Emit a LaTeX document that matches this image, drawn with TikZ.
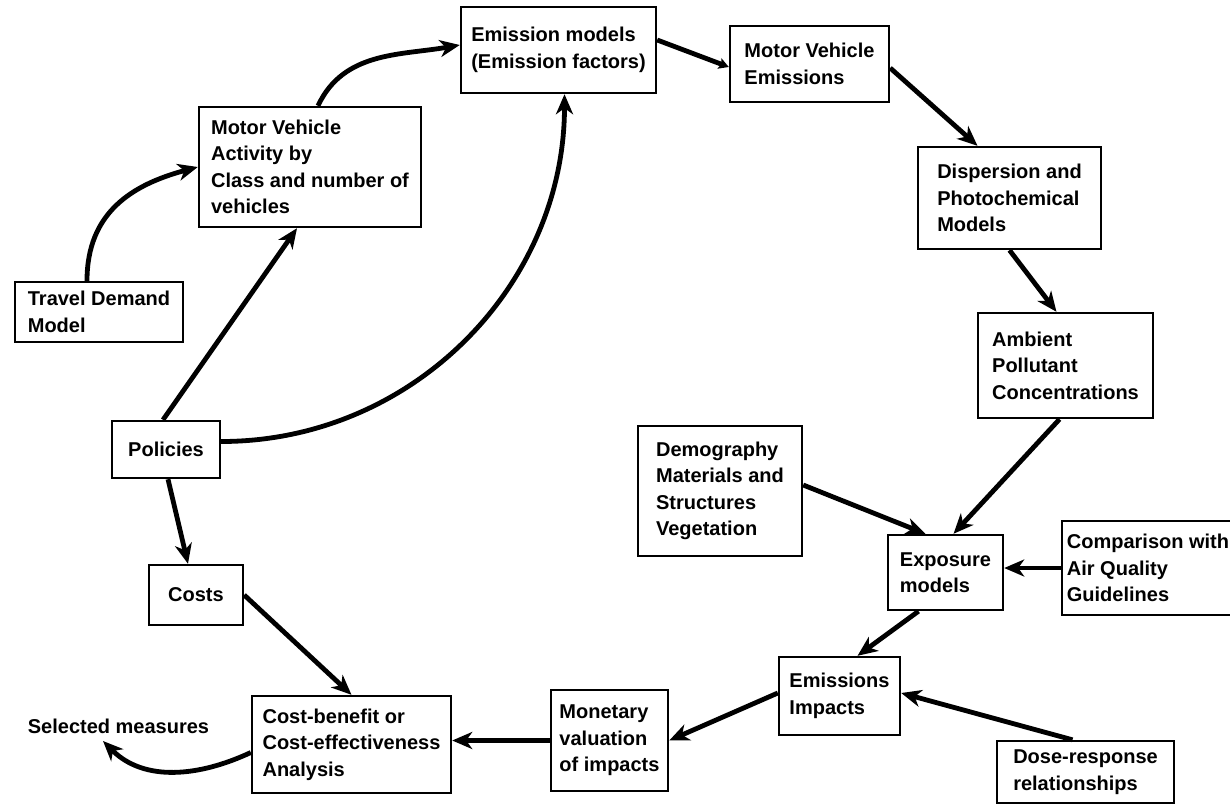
\documentclass[tikz,border=0pt]{standalone}
\usepackage{fontspec}
\setmainfont{Liberation Sans}
\usetikzlibrary{arrows.meta}
\newcommand\boxfont{\fontsize{20}{26.5}\selectfont\bfseries}

\begin{document}
\begin{tikzpicture}[x=1pt,y=1pt,
  box/.style={draw, line width=2.4pt, inner sep=0pt, align=left, font=\boxfont},
  plain/.style={inner sep=0pt, font=\boxfont},
  link/.style={line width=4.8pt, -{Stealth[length=20pt,width=17pt,inset=6pt]}},
  smalllink/.style={line width=4.8pt, -{Stealth[length=10pt,width=11pt,inset=2pt]}},
]
\useasboundingbox (0,0) rectangle (1230,-806);
\clip (0,0) rectangle (1230,-806);

% boxes of the assessment chain
\node[box, minimum width=168pt, minimum height=60pt]  (td)    at (99,-312)     {Travel Demand\\Model};
\node[box, minimum width=222pt, minimum height=120pt] (mva)   at (310,-167)    {Motor Vehicle\\Activity by\\Class and number of\\vehicles};
\node[box, minimum width=195pt, minimum height=86pt]  (em)    at (558.5,-50)   {Emission models\\(Emission factors)};
\node[box, minimum width=159pt, minimum height=76pt]  (mve)   at (809.5,-64)   {Motor Vehicle\\Emissions};
\node[box, minimum width=183pt, minimum height=102pt] (disp)  at (1009.5,-198) {Dispersion and\\Photochemical\\Models};
\node[box, minimum width=175pt, minimum height=105pt] (amb)   at (1065.5,-365.5) {Ambient\\Pollutant\\Concentrations};
\node[box, minimum width=164pt, minimum height=130pt] (dem)   at (720,-491)    {Demography\\Materials and\\Structures\\Vegetation};
\node[box, minimum width=115pt, minimum height=75pt]  (expo)  at (945.5,-572.5) {Exposure\\models};
\node[box, minimum width=172pt, minimum height=94pt]  (comp)  at (1148,-568)   {Comparison with\\Air Quality\\Guidelines};
\node[box, minimum width=121pt, minimum height=78pt]  (ei)    at (839.5,-696)  {Emissions\\Impacts};
\node[box, minimum width=177pt, minimum height=62pt]  (dose)  at (1085.5,-772) {Dose-response\\relationships};
\node[box, minimum width=117pt, minimum height=101pt] (mon)   at (609.5,-740.5) {Monetary\\valuation\\of impacts};
\node[box, minimum width=199pt, minimum height=97pt]  (cb)    at (351.5,-744.5) {Cost-benefit or\\Cost-effectiveness\\Analysis};
\node[box, minimum width=94pt,  minimum height=60pt]  (costs) at (196,-595)    {Costs};
\node[box, minimum width=108pt, minimum height=57pt]  (pol)   at (166,-449.5)  {Policies};

% outcome label
\node[plain] (sel) at (118.5,-726) {Selected measures};
\coordinate (seltip) at (103,-741);

% connectors
\draw[link] ([xshift=-12pt]td.north) to[out=90,in=195,looseness=1.1] (mva.west);
\draw[link] ([xshift=8pt]mva.north) to[out=65,in=190] ([yshift=5pt]em.west);
\draw[link] ([yshift=8pt]pol.east) to[out=0,in=-90] ([xshift=6pt]em.south);
\draw[link] ([xshift=-3pt]pol.north) -- ([xshift=-13pt]mva.south);
\draw[smalllink] ([yshift=10pt]em.east) -- ([yshift=-3pt]mve.west);
\draw[link] ([yshift=-4pt]mve.east) -- ([xshift=-32pt]disp.north);
\draw[link] (disp.south) -- ([xshift=-9pt]amb.north);
\draw[link] ([xshift=-6pt]amb.south) -- ([xshift=8pt]expo.north);
\draw[link] ([yshift=6pt]dem.east) -- ([xshift=-20pt]expo.north);
\draw[link, line width=3.4pt] (comp.west) -- (comp.west -| expo.east);
\draw[link] ([xshift=-27pt]expo.south) -- ([xshift=18pt]ei.north);
\draw[link] ([xshift=-13pt]dose.north) -- ([yshift=3pt]ei.east);
\draw[link] ([yshift=3pt]ei.west) -- (mon.east);
\draw[link] (mon.west) -- (mon.west -| cb.east);
\draw[link] (costs.east) -- (cb.north);
\draw[link] ([xshift=2pt]pol.south) -- ([xshift=-8pt]costs.north);
\draw[link] ([yshift=-8pt]cb.west) to[out=205,in=-45] (seltip);
\end{tikzpicture}
\end{document}
